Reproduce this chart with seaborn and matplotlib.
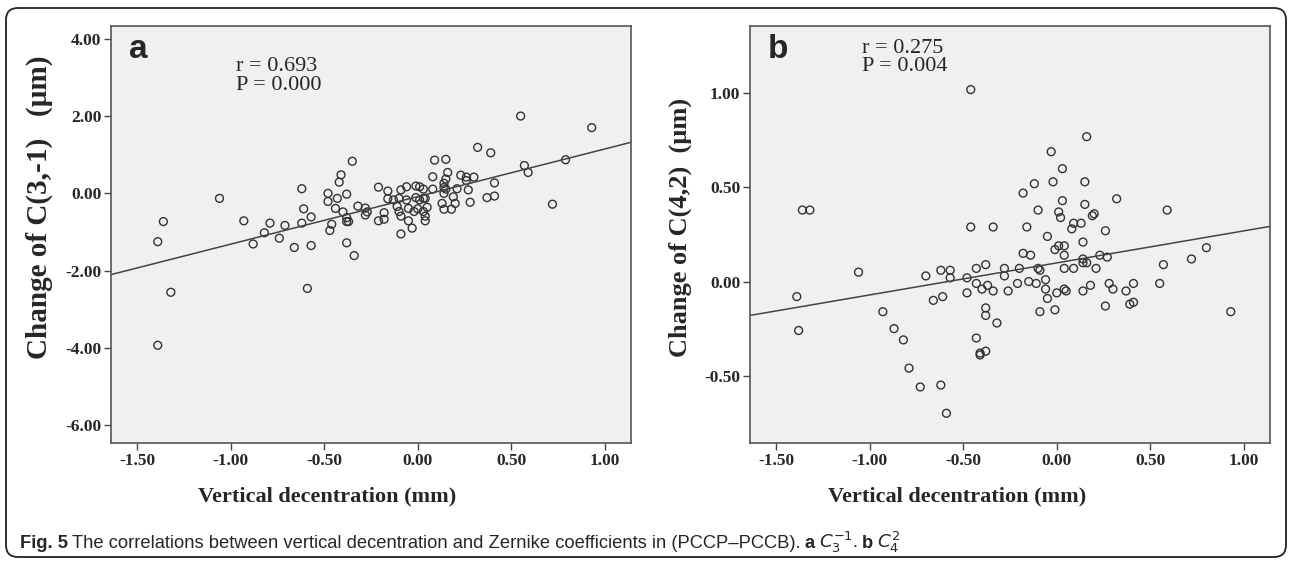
import matplotlib
matplotlib.use('Agg')
import matplotlib.pyplot as plt
from matplotlib.patches import FancyBboxPatch
from matplotlib.ticker import FormatStrFormatter
import seaborn as sns

# panel a: vertical decentration (mm) vs change of C(3,-1) (um)
x_a = [-0.35, -0.41, -0.42, -0.62, -1.06, -0.48, -0.48, -0.43, -0.38, -0.21,
       -0.16, -0.16, -0.61, -0.44, -0.40, -0.32, -0.28, -0.27, -0.28, -1.36,
       -0.93, -0.79, -0.82, -0.71, -0.62, -0.57, -0.38, -0.38, -0.37, -0.46,
       -0.47, -0.18, -0.18, -0.21, -1.39, -0.88, -0.74, -0.66, -0.57, -0.38,
       -0.34, -1.32, -0.59, -1.39,
       0.55, 0.93, 0.32, 0.39, 0.09, 0.15, 0.16, 0.08, 0.15, 0.14,
       0.14, 0.23, 0.26, 0.26, 0.30, 0.41, 0.57, 0.59, 0.79, 0.72,
       -0.09, -0.06, -0.01, 0.01, 0.03, 0.08, 0.15, 0.21, 0.27, -0.13,
       -0.10, -0.06, -0.01, 0.01, 0.03, 0.04, 0.14, 0.19, 0.13, 0.20,
       0.28, 0.37, 0.41, -0.11, -0.10, -0.09, -0.05, -0.02, 0.00, 0.03,
       0.05, 0.04, 0.04, -0.05, -0.09, -0.03, 0.14, 0.18]
y_a = [0.83, 0.48, 0.29, 0.12, -0.13, 0.00, -0.21, -0.13, -0.02, 0.16,
       0.06, -0.14, -0.40, -0.39, -0.48, -0.33, -0.38, -0.48, -0.56, -0.73,
       -0.71, -0.77, -1.02, -0.83, -0.77, -0.61, -0.63, -0.73, -0.73, -0.80,
       -0.96, -0.50, -0.67, -0.71, -1.25, -1.31, -1.16, -1.40, -1.35, -1.28,
       -1.61, -2.56, -2.46, -3.93,
       2.00, 1.70, 1.19, 1.05, 0.86, 0.88, 0.54, 0.43, 0.37, 0.26,
       0.15, 0.47, 0.42, 0.33, 0.42, 0.27, 0.72, 0.54, 0.87, -0.28,
       0.09, 0.17, 0.19, 0.17, 0.11, 0.11, 0.11, 0.12, 0.09, -0.17,
       -0.13, -0.17, -0.11, -0.17, -0.13, -0.13, 0.00, -0.09, -0.26, -0.26,
       -0.23, -0.11, -0.07, -0.34, -0.47, -0.59, -0.39, -0.47, -0.40, -0.47,
       -0.36, -0.59, -0.71, -0.71, -1.05, -0.90, -0.41, -0.41]

# panel b: vertical decentration (mm) vs change of C(4,2) (um)
x_b = [-1.36, -1.32, -1.06, -1.39, -1.38, -0.93, -0.87, -0.82, -0.79, -0.73,
       -0.62, -0.59, -0.70, -0.66, -0.62, -0.57, -0.57, -0.61, -0.48, -0.48,
       -0.46, -0.34, -0.43, -0.38, -0.43, -0.40, -0.37, -0.34, -0.38, -0.38,
       -0.32, -0.43, -0.38, -0.41, -0.41, -0.46,
       0.16, -0.03, 0.03, -0.12, -0.02, 0.15, -0.18, 0.32, 0.59, 0.03,
       -0.10, 0.01, 0.02, 0.15, 0.20, 0.19, 0.09, 0.13, 0.08, 0.26,
       -0.16, -0.05, 0.14, 0.01, 0.04, -0.01, 0.04, -0.18, -0.14,
       0.23, 0.27, 0.14, 0.14, 0.16, 0.21, 0.57, 0.72, 0.80,
       -0.28, -0.28, -0.20, -0.10, -0.09, 0.04, 0.09, -0.06, -0.21, -0.15, -0.11,
       -0.26, -0.06, 0.04, 0.05, 0.00, -0.05, 0.14, 0.18, 0.28, 0.30, 0.37, 0.41, 0.55,
       -0.09, -0.01, 0.26, 0.39, 0.41, 0.93]
y_b = [0.38, 0.38, 0.05, -0.08, -0.26, -0.16, -0.25, -0.31, -0.46, -0.56,
       -0.55, -0.70, 0.03, -0.10, 0.06, 0.06, 0.02, -0.08, 0.02, -0.06,
       0.29, 0.29, 0.07, 0.09, -0.01, -0.04, -0.02, -0.05, -0.14, -0.18,
       -0.22, -0.30, -0.37, -0.38, -0.39, 1.02,
       0.77, 0.69, 0.60, 0.52, 0.53, 0.53, 0.47, 0.44, 0.38, 0.43,
       0.38, 0.37, 0.34, 0.41, 0.36, 0.35, 0.31, 0.31, 0.28, 0.27,
       0.29, 0.24, 0.21, 0.19, 0.19, 0.17, 0.14, 0.15, 0.14,
       0.14, 0.13, 0.12, 0.10, 0.10, 0.07, 0.09, 0.12, 0.18,
       0.07, 0.03, 0.07, 0.07, 0.06, 0.07, 0.07, 0.01, -0.01, 0.00, -0.01,
       -0.05, -0.04, -0.04, -0.05, -0.06, -0.09, -0.05, -0.02, -0.01, -0.04, -0.05, -0.01, -0.01,
       -0.16, -0.15, -0.13, -0.12, -0.11, -0.16]

stats_a = 'r = 0.693\nP = 0.000'
stats_b = 'r = 0.275\nP = 0.004'
x_ticks = [-1.5, -1.0, -0.5, 0.0, 0.5, 1.0]
y_ticks_a = [-6, -4, -2, 0, 2, 4]
y_ticks_b = [-0.5, 0.0, 0.5, 1.0]
x_title = 'Vertical decentration (mm)'
y_title_a = 'Change of C(3,-1)   (µm)'
y_title_b = 'Change of C(4,2)  (µm)'

sns.set_style('ticks')
plt.rcParams['font.family'] = ['Liberation Serif', 'DejaVu Serif']
plt.rcParams['mathtext.fontset'] = 'dejavusans'

fig = plt.figure(figsize=(12.92, 5.63), dpi=100)

# outer rounded frame
frame = FancyBboxPatch((0.06, 0.06), 12.80, 5.49, boxstyle='round,pad=0,rounding_size=0.12',
                       transform=fig.dpi_scale_trans, fill=False, ec='#222222', lw=1.3)
fig.add_artist(frame)

ax_a = fig.add_axes([0.0859, 0.2131, 0.4025, 0.7407])
ax_b = fig.add_axes([0.5805, 0.2131, 0.4025, 0.7407])

# ax, x, y, ylim, yticks, ytitle, ytitle size, ytitle centre, xtitle centre, stats, stats x, stats y, letter
panels = [
    (ax_a, x_a, y_a, (-6.46, 4.33), y_ticks_a, y_title_a, 21, 0.566, 0.416, stats_a, 0.24, 0.925, 'a'),
    (ax_b, x_b, y_b, (-0.858, 1.358), y_ticks_b, y_title_b, 19, 0.516, 0.399, stats_b, 0.215, 0.97, 'b'),
]

for ax, xs, ys, ylim, yt, ytitle, ysize, ypos, xpos, stats, sx, sy, letter in panels:
    ax.set_facecolor('#f0f0f0')
    ax.set_xlim(-1.64, 1.14)
    ax.set_ylim(*ylim)
    sns.regplot(x=xs, y=ys, ax=ax, ci=None, truncate=False,
                scatter_kws=dict(s=32, color='#333333', facecolors='none', linewidths=1.0, alpha=1),
                line_kws=dict(color='#444444', lw=1.1))
    ax.set_xlim(-1.64, 1.14)
    ax.set_ylim(*ylim)
    ax.set_xticks(x_ticks)
    ax.set_yticks(yt)
    ax.xaxis.set_major_formatter(FormatStrFormatter('%.2f'))
    ax.yaxis.set_major_formatter(FormatStrFormatter('%.2f'))
    ax.tick_params(direction='out', length=5, width=1, color='#444444', labelsize=12.5, pad=2)
    for lab in ax.get_xticklabels() + ax.get_yticklabels():
        lab.set_fontweight('bold')
    for sp in ax.spines.values():
        sp.set_visible(True)
        sp.set_color('#555555')
        sp.set_linewidth(1.2)
    ax.set_xlabel(x_title, fontsize=16, fontweight='bold')
    ax.set_ylabel(ytitle, fontsize=ysize, fontweight='bold')
    ax.xaxis.set_label_coords(xpos, -0.105)
    ax.yaxis.set_label_coords(-0.1115, ypos)
    ax.text(0.035, 0.923, letter, transform=ax.transAxes, fontsize=24, fontweight='bold',
            family='Liberation Sans', va='baseline')
    ax.text(sx, sy, stats, transform=ax.transAxes,
            fontsize=16, va='top', ha='left', linespacing=0.95)

# caption built from runs of normal / bold text
cap_font = ['Liberation Sans', 'DejaVu Sans']
runs = [('Fig. 5', 'bold'),
        ('The correlations between vertical decentration and Zernike coefficients in (PCCP\u2013PCCB).', 'normal'),
        ('a', 'bold'), (r'$C_3^{-1}$.', 'normal'),
        ('b', 'bold'), (r'$C_4^{2}$', 'normal')]
renderer = fig.canvas.get_renderer()
cx = 20
for text, weight in runs:
    t = fig.text(cx / 1292, 15 / 563, text, fontsize=13.2, fontweight=weight,
                 family=cap_font, va='baseline', ha='left')
    bb = t.get_window_extent(renderer)
    cx = bb.x1 + 4

fig.savefig('out.png', dpi=100)
